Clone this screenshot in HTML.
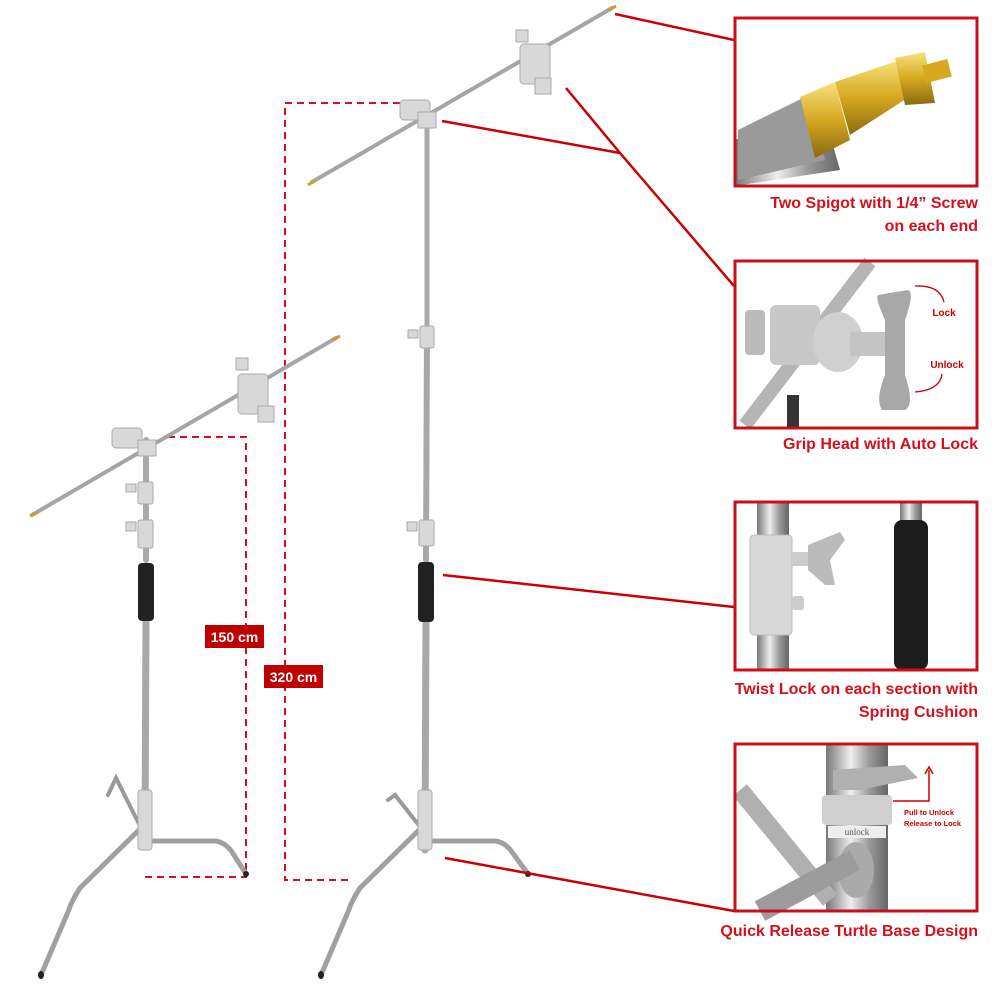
<!DOCTYPE html>
<html><head><meta charset="utf-8"><style>
html,body{margin:0;padding:0;background:#fff}
.cap{position:absolute;right:22px;font:bold 16px "Liberation Sans",sans-serif;color:#d4101c;text-align:right;line-height:23px}
</style></head><body>
<div style="position:relative;width:1000px;height:1000px;overflow:hidden">
<svg width="1000" height="1000" viewBox="0 0 1000 1000" xmlns="http://www.w3.org/2000/svg" style="position:absolute;left:0;top:0">
<defs>
<linearGradient id="chrome" x1="0" x2="1" y1="0" y2="0">
<stop offset="0" stop-color="#777"/><stop offset="0.4" stop-color="#eee"/><stop offset="0.7" stop-color="#999"/><stop offset="1" stop-color="#666"/></linearGradient>
<linearGradient id="gold" x1="0" x2="0" y1="0" y2="1"><stop offset="0" stop-color="#f6e27a"/><stop offset="0.5" stop-color="#d6a820"/><stop offset="1" stop-color="#8a6a10"/></linearGradient>
</defs>
<!-- dashed measurement lines -->
<g stroke="#d4101c" stroke-width="2" stroke-dasharray="7,5" fill="none">
<path d="M400,103 H285 V880 H350"/>
<path d="M168,437 H246 V877 H140"/>
</g>
<rect x="205" y="625" width="59" height="23" fill="#c00000"/>
<text x="234.5" y="642" font-family="Liberation Sans" font-weight="bold" font-size="14" fill="#fff" text-anchor="middle">150 cm</text>
<rect x="264" y="665" width="59" height="23" fill="#c00000"/>
<text x="293.5" y="682" font-family="Liberation Sans" font-weight="bold" font-size="14" fill="#fff" text-anchor="middle">320 cm</text>

<!-- BIG STAND -->
<g stroke-linecap="round" fill="none">
<path d="M421,828 L395,795 L388,800" stroke="#999" stroke-width="4"/>
<path d="M421,828 L360,888 Q352,900 348,912 L321,975" stroke="#a0a0a0" stroke-width="5"/>
<path d="M430,841 H495 Q505,842 512,852 L528,874" stroke="#a0a0a0" stroke-width="5"/>
<line x1="427" y1="120" x2="427" y2="330" stroke="#aaa" stroke-width="5"/>
<line x1="427" y1="330" x2="426" y2="560" stroke="#a8a8a8" stroke-width="6"/>
<line x1="426" y1="620" x2="425" y2="850" stroke="#a8a8a8" stroke-width="7"/>
<line x1="312" y1="182" x2="612" y2="8" stroke="#a5a5a5" stroke-width="4"/>
</g>
<line x1="308" y1="185" x2="316" y2="180" stroke="#c9a030" stroke-width="3"/>
<line x1="608" y1="10" x2="616" y2="6" stroke="#c9a030" stroke-width="3"/>
<rect x="418" y="562" width="16" height="60" rx="4" fill="#222"/>
<g fill="#d8d8d8" stroke="#aaa" stroke-width="1">
<rect x="420" y="326" width="14" height="22" rx="2"/><rect x="408" y="330" width="10" height="8"/>
<rect x="419" y="520" width="15" height="26" rx="2"/><rect x="407" y="522" width="10" height="9"/>
<rect x="400" y="100" width="30" height="20" rx="4"/><rect x="418" y="112" width="18" height="16"/>
<rect x="520" y="44" width="30" height="40" rx="4"/><rect x="516" y="30" width="12" height="12"/><rect x="535" y="78" width="16" height="16"/>
<rect x="418" y="790" width="14" height="60" rx="3"/>
</g>
<ellipse cx="321" cy="975" rx="3" ry="4" fill="#222"/><ellipse cx="528" cy="874" rx="3" ry="3" fill="#222"/>

<!-- SMALL STAND -->
<g stroke-linecap="round" fill="none">
<path d="M141,828 L116,778 L108,795" stroke="#999" stroke-width="4"/>
<path d="M141,828 L80,888 Q72,900 68,912 L41,975" stroke="#a0a0a0" stroke-width="5"/>
<path d="M150,841 H215 Q225,842 232,852 L246,874" stroke="#a0a0a0" stroke-width="5"/>
<line x1="146" y1="440" x2="146" y2="560" stroke="#aaa" stroke-width="6"/>
<line x1="146" y1="620" x2="145" y2="840" stroke="#a8a8a8" stroke-width="7"/>
<line x1="32" y1="515" x2="336" y2="338" stroke="#a5a5a5" stroke-width="4"/>
</g>
<line x1="30" y1="516" x2="38" y2="512" stroke="#c9a030" stroke-width="3"/>
<line x1="332" y1="340" x2="340" y2="336" stroke="#c9a030" stroke-width="3"/>
<rect x="138" y="563" width="16" height="58" rx="4" fill="#222"/>
<g fill="#d8d8d8" stroke="#aaa" stroke-width="1">
<rect x="138" y="482" width="15" height="22" rx="2"/><rect x="126" y="484" width="10" height="8"/>
<rect x="138" y="520" width="15" height="28" rx="2"/><rect x="126" y="522" width="10" height="9"/>
<rect x="112" y="428" width="30" height="20" rx="4"/><rect x="138" y="440" width="18" height="16"/>
<rect x="238" y="374" width="30" height="40" rx="4"/><rect x="236" y="358" width="12" height="12"/><rect x="258" y="406" width="16" height="16"/>
<rect x="138" y="790" width="14" height="60" rx="3"/>
</g>
<ellipse cx="41" cy="975" rx="3" ry="4" fill="#222"/><ellipse cx="246" cy="874" rx="3" ry="3" fill="#222"/>

<!-- leader lines -->
<g stroke="#cc0000" stroke-width="2.5" fill="none">
<line x1="615" y1="14" x2="734" y2="40"/>
<polyline points="442,121 620,153"/>
<polyline points="566,88 620,153 734,286"/>
<line x1="443" y1="575" x2="734" y2="607"/>
<line x1="445" y1="858" x2="734" y2="911"/>
</g>

<!-- inset 1 -->
<g>
<rect x="735" y="18" width="242" height="168" fill="#fff"/>
<polygon points="735,140 820,100 840,170 735,186" fill="url(#chrome)"/>
<polygon points="738,130 805,97 825,160 738,180" fill="#9a9a9a"/>
<polygon points="800,97 835,82 850,140 815,158" fill="url(#gold)"/>
<polygon points="835,82 900,60 912,95 850,135" fill="url(#gold)"/>
<polygon points="895,58 925,52 935,103 905,105" fill="url(#gold)"/>
<rect x="924" y="62" width="26" height="18" fill="#d6a820" transform="rotate(-15 937 71)"/>
<rect x="735" y="18" width="242" height="168" fill="none" stroke="#c8101c" stroke-width="3"/>
</g>
<!-- inset 2 -->
<g>
<rect x="735" y="261" width="242" height="167" fill="#fff"/>
<line x1="745" y1="425" x2="870" y2="262" stroke="#b5b5b5" stroke-width="14"/>
<rect x="770" y="305" width="50" height="60" rx="6" fill="#c8c8c8"/>
<rect x="745" y="310" width="20" height="45" rx="4" fill="#bbb"/>
<ellipse cx="838" cy="342" rx="25" ry="30" fill="#d0d0d0"/>
<rect x="850" y="332" width="40" height="24" fill="#c4c4c4"/>
<path d="M878,295 L908,290 Q915,292 905,320 L905,375 Q915,405 905,410 L882,410 Q875,400 885,375 L885,320 Q875,298 878,295Z" fill="#a8a8a8"/>
<rect x="787" y="395" width="12" height="33" fill="#333"/>
<text x="944" y="316" font-family="Liberation Sans" font-weight="bold" font-size="10" fill="#cc0000" text-anchor="middle">Lock</text>
<text x="947" y="368" font-family="Liberation Sans" font-weight="bold" font-size="10" fill="#cc0000" text-anchor="middle">Unlock</text>
<path d="M915,286 Q940,285 944,302" stroke="#cc0000" stroke-width="1.3" fill="none"/>
<path d="M915,392 Q940,390 942,374" stroke="#cc0000" stroke-width="1.3" fill="none"/>
<rect x="735" y="261" width="242" height="167" fill="none" stroke="#c8101c" stroke-width="3"/>
</g>
<!-- inset 3 -->
<g>
<rect x="735" y="502" width="242" height="168" fill="#fff"/>
<rect x="757" y="502" width="32" height="168" fill="url(#chrome)"/>
<rect x="750" y="535" width="42" height="100" rx="4" fill="#d8d8d8" stroke="#bbb"/>
<rect x="792" y="552" width="16" height="14" fill="#ccc"/>
<polygon points="808,545 840,532 845,540 830,560 835,585 825,585 808,570" fill="#bbb"/>
<rect x="792" y="596" width="12" height="14" rx="3" fill="#ccc"/>
<rect x="900" y="502" width="22" height="30" fill="url(#chrome)"/>
<rect x="894" y="520" width="34" height="150" rx="8" fill="#1c1c1c"/>
<rect x="735" y="502" width="242" height="168" fill="none" stroke="#c8101c" stroke-width="3"/>
</g>
<!-- inset 4 -->
<g>
<rect x="735" y="744" width="242" height="167" fill="#fff"/>
<rect x="826" y="744" width="62" height="167" fill="url(#chrome)"/>
<line x1="740" y1="790" x2="830" y2="900" stroke="#b0b0b0" stroke-width="18"/>
<polygon points="833,770 905,765 918,778 860,790 833,790" fill="#b0b0b0"/>
<rect x="822" y="795" width="70" height="30" rx="4" fill="#cfcfcf"/>
<rect x="828" y="826" width="58" height="12" fill="#eee"/>
<text x="857" y="835" font-family="Liberation Serif" font-size="9" fill="#555" text-anchor="middle">unlock</text>
<ellipse cx="856" cy="870" rx="18" ry="28" fill="#aaa"/>
<line x1="760" y1="911" x2="855" y2="860" stroke="#9c9c9c" stroke-width="22"/>
<path d="M893,801 H929 V770" stroke="#cc0000" stroke-width="1.5" fill="none"/>
<path d="M925,774 L929,767 L933,774" stroke="#cc0000" stroke-width="1.5" fill="none"/>
<text x="904" y="815" font-family="Liberation Sans" font-weight="bold" font-size="7.5" fill="#cc0000">Pull to Unlock</text>
<text x="904" y="826" font-family="Liberation Sans" font-weight="bold" font-size="7.5" fill="#cc0000">Release to Lock</text>
<rect x="735" y="744" width="242" height="167" fill="none" stroke="#c8101c" stroke-width="3"/>
</g>
</svg>
<div class="cap" style="top:192px">Two Spigot with 1/4” Screw<br>on each end</div>
<div class="cap" style="top:433px">Grip Head with Auto Lock</div>
<div class="cap" style="top:678px">Twist Lock on each section with<br>Spring Cushion</div>
<div class="cap" style="top:920px">Quick Release Turtle Base Design</div>
</div>
</body></html>
